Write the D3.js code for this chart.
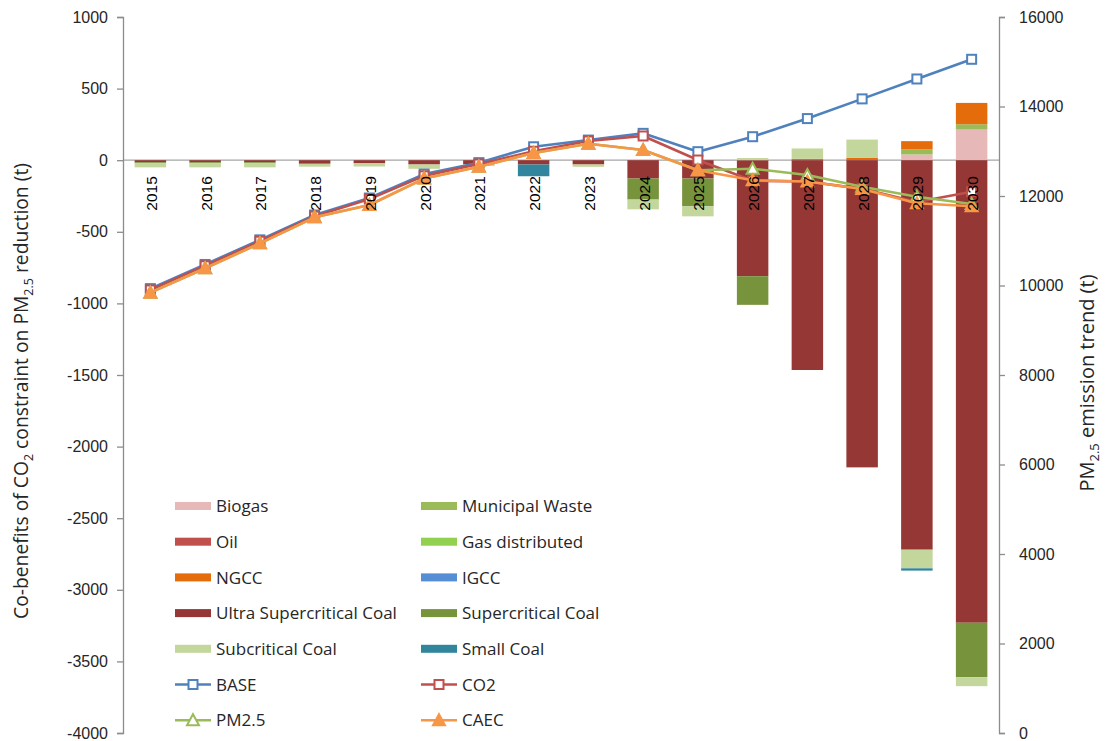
<!DOCTYPE html>
<html>
<head>
<meta charset="utf-8">
<script src="https://cdn.jsdelivr.net/npm/d3@7"></script>
<style>
  html, body { margin: 0; padding: 0; background: #fff; }
  svg { display: block; font-family: "Liberation Sans", "DejaVu Sans", sans-serif; }
</style>
</head>
<body>
<svg id="chart" width="1105" height="741"></svg>
<script>
// ---- data ----
const years = ["2015","2016","2017","2018","2019","2020","2021","2022",
               "2023","2024","2025","2026","2027","2028","2029","2030"];

// power-sector contributions (t), stacked columns on the left axis
const biogas        = [0,0,0,0,0,0,0,0,0,0,0,0,0,0,40,214];
const municipal     = [0,0,0,0,0,0,0,0,0,0,0,0,0,0,35,37];
const oil           = [0,0,0,0,0,0,0,0,0,0,0,0,0,0,0,0];
const gasDist       = [0,0,0,0,0,0,0,0,0,0,0,0,0,0,0,0];
const ngcc          = [0,0,0,0,0,0,0,0,0,0,0,0,10,18,58,149];
const igcc          = [0,0,0,0,0,0,0,0,0,0,0,0,0,0,0,0];
const ultraSC       = [-14,-14,-14,-25,-22,-30,-28,-30,-30,-128,-128,-810,-1465,-2145,-2720,-3230];
const superC        = [-8,-8,-8,0,0,0,0,0,0,-147,-194,-200,0,0,0,-380];
const subC          = [-28,-28,-28,-20,-22,-30,-12,0,-16,-68,-70,15,72,126,-130,-63];
const smallCoal     = [0,0,0,0,0,0,0,-82,0,0,0,0,0,0,-16,0];

// scenario emission trends (t), lines on the right axis
const base = [9930,10470,11020,11575,11955,12490,12745,13100,13250,13400,12990,13325,13730,14170,14615,15055];
const co2  = [9900,10440,10990,11550,11930,12450,12715,13000,13229,13341,12804,12340,12325,12160,11866,12096];
const pm25 = [9840,10385,10942,11523,11799,12390,12655,12961,13169,13028,12575,12610,12470,12208,11985,11820];
const caec = [9840,10385,10942,11523,11799,12390,12655,12961,13169,13028,12575,12350,12325,12156,11837,11770];

const leftTicks  = [1000,500,0,-500,-1000,-1500,-2000,-2500,-3000,-3500,-4000];
const rightTicks = [0,2000,4000,6000,8000,10000,12000,14000,16000];

// ---- series definitions ----
const barSeries = [
  { key: "Biogas",                   values: biogas,    color: "#E6B9B8" },
  { key: "Municipal Waste",          values: municipal, color: "#9BBB59" },
  { key: "Oil",                      values: oil,       color: "#C0504D" },
  { key: "Gas distributed",          values: gasDist,   color: "#92D050" },
  { key: "NGCC",                     values: ngcc,      color: "#E46C0A" },
  { key: "IGCC",                     values: igcc,      color: "#558ED5" },
  { key: "Ultra Supercritical Coal", values: ultraSC,   color: "#953735" },
  { key: "Supercritical Coal",       values: superC,    color: "#77933C" },
  { key: "Subcritical Coal",         values: subC,      color: "#C3D69B" },
  { key: "Small Coal",               values: smallCoal, color: "#31859C" }
];
const lineSeries = [
  { key: "BASE",  values: base, color: "#4F81BD", marker: "square",   fill: "#fff" },
  { key: "CO2",   values: co2,  color: "#C0504D", marker: "square",   fill: "#fff" },
  { key: "PM2.5", values: pm25, color: "#9BBB59", marker: "triangle", fill: "#fff" },
  { key: "CAEC",  values: caec, color: "#F79646", marker: "triangle", fill: "#F79646" }
];

// ---- layout ----
const svg = d3.select("#chart");
const plot = { left: 123, right: 999, top: 17, bottom: 733 };

const x = d3.scaleBand().domain(years).range([plot.left, plot.right])
  .paddingInner(0.425).paddingOuter(0.2125);
const yL = d3.scaleLinear().domain([-4000, 1000]).range([plot.bottom, plot.top]);
const yR = d3.scaleLinear().domain([0, 16000]).range([plot.bottom, plot.top]);

const axisColor = "#8c8c8c";
const textColor = "#262626";

// zero (category) line
svg.append("line")
  .attr("x1", plot.left).attr("x2", plot.right)
  .attr("y1", yL(0)).attr("y2", yL(0))
  .attr("stroke", "#a6a6a6").attr("stroke-width", 1.3);

// ---- stacked columns ----
const rows = years.map((yr, i) => {
  const r = { year: yr };
  barSeries.forEach(s => r[s.key] = s.values[i]);
  return r;
});
const stack = d3.stack()
  .keys(barSeries.map(s => s.key))
  .offset(d3.stackOffsetDiverging);
const stacked = stack(rows);

svg.append("g").selectAll("g")
  .data(stacked)
  .join("g")
  .attr("fill", (d, i) => barSeries[i].color)
  .selectAll("rect")
  .data(d => d.filter(p => p[1] !== p[0]))
  .join("rect")
  .attr("x", d => x(d.data.year))
  .attr("width", x.bandwidth())
  .attr("y", d => yL(Math.max(d[0], d[1])))
  .attr("height", d => Math.abs(yL(d[0]) - yL(d[1])));

// ---- axes ----
const plain = d => String(d);
const gL = svg.append("g").attr("transform", `translate(${plot.left},0)`)
  .call(d3.axisLeft(yL).tickValues(leftTicks).tickSize(6).tickPadding(9).tickFormat(plain));
const gR = svg.append("g").attr("transform", `translate(${plot.right},0)`)
  .call(d3.axisRight(yR).tickValues(rightTicks).tickSize(6).tickPadding(14).tickFormat(plain));
[gL, gR].forEach(g => {
  g.select(".domain").attr("stroke", axisColor).attr("stroke-width", 1.3);
  g.selectAll(".tick line").attr("stroke", axisColor).attr("stroke-width", 1.3);
  g.selectAll(".tick text").attr("fill", textColor).attr("font-size", 16)
    .attr("font-family", "'Liberation Sans', sans-serif");
});

// ---- lines ----
const cx = i => x(years[i]) + x.bandwidth() / 2;
const lineGen = d3.line().x((d, i) => cx(i)).y(d => yR(d));

function drawMarker(g, type, color, fill) {
  if (type === "square") {
    g.append("rect").attr("x", -4.5).attr("y", -4.5).attr("width", 9).attr("height", 9)
      .attr("fill", fill).attr("stroke", color).attr("stroke-width", 2);
  } else {
    g.append("path").attr("d", "M0,-6L6,5L-6,5Z")
      .attr("fill", fill).attr("stroke", color).attr("stroke-width", 2)
      .attr("stroke-linejoin", "miter");
  }
}

lineSeries.forEach(s => {
  const g = svg.append("g");
  g.append("path").datum(s.values)
    .attr("d", lineGen)
    .attr("fill", "none")
    .attr("stroke", s.color)
    .attr("stroke-width", 2.6)
    .attr("stroke-linejoin", "round");
  s.values.forEach((v, i) => {
    const m = g.append("g").attr("transform", `translate(${cx(i)},${yR(v)})`);
    drawMarker(m, s.marker, s.color, s.fill);
  });
});

// category labels, rotated, hanging just below the zero line
svg.append("g").selectAll("text")
  .data(years)
  .join("text")
  .attr("transform", d => `translate(${x(d) + x.bandwidth() / 2 + 1},${yL(0) + 16}) rotate(-90)`)
  .attr("text-anchor", "end")
  .attr("dy", "0.36em")
  .attr("font-size", 15.5)
  .attr("fill", "#000")
  .text(d => d);

// ---- axis titles ----
const leftTitle = svg.append("text")
  .attr("transform", `translate(28,${(plot.top + plot.bottom) / 2 + 16}) rotate(-90)`)
  .attr("text-anchor", "middle")
  .attr("font-size", 19.3)
  .attr("fill", textColor)
  .attr("font-family", "'Open Sans', sans-serif");
leftTitle.append("tspan").text("Co-benefits of CO");
leftTitle.append("tspan").attr("font-size", 12.5).attr("dy", 5).text("2");
leftTitle.append("tspan").attr("dy", -5).text(" constraint on PM");
leftTitle.append("tspan").attr("font-size", 12.5).attr("dy", 5).text("2.5");
leftTitle.append("tspan").attr("dy", -5).text(" reduction (t)");

const rightTitle = svg.append("text")
  .attr("transform", `translate(1094,${(plot.top + plot.bottom) / 2 + 8}) rotate(-90)`)
  .attr("text-anchor", "middle")
  .attr("font-size", 20)
  .attr("fill", textColor)
  .attr("font-family", "'Open Sans', sans-serif");
rightTitle.append("tspan").text("PM");
rightTitle.append("tspan").attr("font-size", 13).attr("dy", 5).text("2.5");
rightTitle.append("tspan").attr("dy", -5).text(" emission trend (t)");

// ---- legend ----
const legendItems = [
  ...barSeries.map(s => ({ key: s.key, color: s.color, type: "bar" })),
  ...lineSeries.map(s => ({ key: s.key, color: s.color, type: "line", marker: s.marker, fill: s.fill }))
];
const legend = svg.append("g");
legendItems.forEach((it, i) => {
  const col = i % 2, row = Math.floor(i / 2);
  const lx = col === 0 ? 175 : 421;
  const ly = 506 + row * 35.7;
  const g = legend.append("g").attr("transform", `translate(${lx},${ly})`);
  if (it.type === "bar") {
    g.append("rect").attr("x", 0).attr("y", -4).attr("width", 36).attr("height", 8).attr("fill", it.color);
  } else {
    g.append("line").attr("x1", 0).attr("x2", 36).attr("y1", 0).attr("y2", 0)
      .attr("stroke", it.color).attr("stroke-width", 2.6);
    const m = g.append("g").attr("transform", "translate(18,0)");
    drawMarker(m, it.marker, it.color, it.fill);
  }
  g.append("text").attr("x", 41).attr("y", 0).attr("dy", "0.36em")
    .attr("font-size", 17).attr("fill", textColor)
    .attr("font-family", "'Open Sans', sans-serif")
    .text(it.key);
});
</script>
</body>
</html>
